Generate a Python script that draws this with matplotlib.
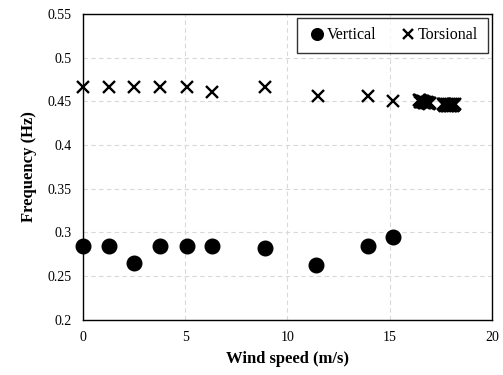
import matplotlib
matplotlib.use("Agg")
import matplotlib.pyplot as plt

plt.rcParams['font.family'] = ['Liberation Serif', 'DejaVu Serif']

vert_speed = [0.0, 1.26, 2.51, 3.78, 5.09, 6.29, 8.9, 11.39, 13.92, 15.17]
vert_freq = [0.284, 0.284, 0.2655, 0.284, 0.284, 0.284, 0.282, 0.263, 0.284, 0.295]

tors_speed = [0.0, 1.26, 2.51, 3.78, 5.09, 6.29, 8.9, 11.5, 13.95, 15.17,
              16.45, 16.5, 16.55, 16.6, 16.65, 16.7, 16.75, 16.8, 16.85, 16.9, 16.95,
              16.5, 16.55, 16.6, 16.65, 16.7, 16.75, 16.8, 16.85, 16.9,
              17.6, 17.65, 17.7, 17.75, 17.8, 17.85, 17.9, 17.95, 18.0, 18.05, 18.1, 18.15, 18.2,
              17.65, 17.7, 17.75, 17.8, 17.85, 17.9, 17.95, 18.0, 18.05, 18.1, 18.15]
tors_freq = [0.4665, 0.4665, 0.4665, 0.4665, 0.4665, 0.461, 0.4665, 0.4555, 0.4555, 0.450,
             0.4515, 0.451, 0.4505, 0.4505, 0.450, 0.4495, 0.449, 0.449, 0.4485, 0.4485, 0.448,
             0.4495, 0.4492, 0.449, 0.4488, 0.4485, 0.448, 0.4478, 0.4475, 0.4472,
             0.4465, 0.447, 0.4465, 0.446, 0.4465, 0.446, 0.4465, 0.446, 0.4465, 0.446, 0.4465, 0.446, 0.4465,
             0.4455, 0.4452, 0.4455, 0.445, 0.4452, 0.4455, 0.445, 0.4452, 0.4455, 0.445, 0.4455]

xticks = [0, 5, 10, 15, 20]
yticks = [0.2, 0.25, 0.3, 0.35, 0.4, 0.45, 0.5, 0.55]
yticklabels = ['0.2', '0.25', '0.3', '0.35', '0.4', '0.45', '0.5', '0.55']

fig = plt.figure(figsize=(5.03, 3.75), dpi=100)
ax = fig.add_axes([0.165, 0.147, 0.813, 0.816])

ax.plot(vert_speed, vert_freq, linestyle='none', marker='o', markersize=10.5,
        color='black', label='Vertical', zorder=3, clip_on=False)
ax.plot(tors_speed, tors_freq, linestyle='none', marker='x', markersize=9,
        markeredgewidth=1.7, color='black', label='Torsional', zorder=3, clip_on=False)

ax.set_xlim(0, 20)
ax.set_ylim(0.2, 0.55)
ax.set_xticks(xticks)
ax.set_yticks(yticks)
ax.set_yticklabels(yticklabels)
ax.tick_params(length=0, labelsize=10, pad=8)
ax.grid(True, color='#d9d9d9', linestyle='--', linewidth=0.8, dashes=(4, 3))
ax.set_axisbelow(True)
for s in ax.spines.values():
    s.set_color('black')
    s.set_linewidth(1.0)

ax.set_xlabel('Wind speed (m/s)', fontsize=12, fontweight='bold', labelpad=5)
ax.set_ylabel('Frequency (Hz)', fontsize=12, fontweight='bold', labelpad=8)

leg = ax.legend(loc='upper right', ncol=2, fontsize=11.5, frameon=True,
                fancybox=False, edgecolor='black', handletextpad=0.0,
                columnspacing=1.3, borderpad=0.6, handlelength=1.3,
                borderaxespad=0.25, markerscale=0.8)
leg.get_frame().set_linewidth(1.0)

fig.savefig('out.png', dpi=100)
